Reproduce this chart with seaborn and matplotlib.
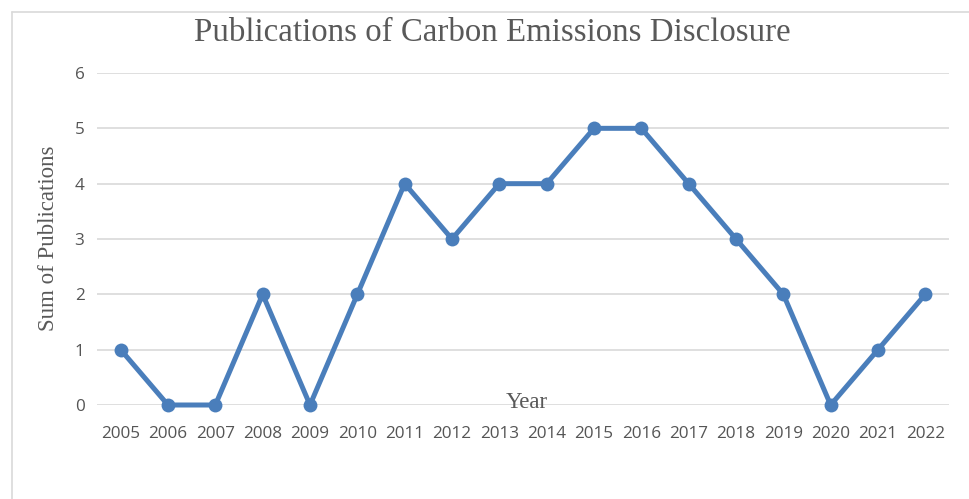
import matplotlib
matplotlib.use("Agg")
import matplotlib.pyplot as plt
import seaborn as sns
import pandas as pd
from matplotlib.lines import Line2D

years = [2005, 2006, 2007, 2008, 2009, 2010, 2011, 2012, 2013, 2014,
         2015, 2016, 2017, 2018, 2019, 2020, 2021, 2022]
publications = [1, 0, 0, 2, 0, 2, 4, 3, 4, 4, 5, 5, 4, 3, 2, 0, 1, 2]
y_ticks = [0, 1, 2, 3, 4, 5, 6]

df = pd.DataFrame({"Year": years, "Publications": publications})

sns.set_style("white")
fig = plt.figure(figsize=(9.70, 4.99), dpi=100)
ax = fig.add_axes([97/970, 1-405/499, (949-97)/970, (405-73)/499])

sns.lineplot(data=df, x="Year", y="Publications", ax=ax, color="#4a7ebb",
             linewidth=3.6, marker="o", markersize=10, markeredgewidth=0,
             clip_on=False, zorder=5)

ax.set_xlim(years[0]-0.5, years[-1]+0.5)
ax.set_ylim(0, 6)
ax.set_yticks(y_ticks)
ax.set_xticks(years)
ax.set_xticklabels([str(y) for y in years])
ax.grid(axis="y", color="#d9d9d9", linewidth=1.2)
ax.grid(axis="x", visible=False)
for s in ax.spines.values():
    s.set_visible(False)
ax.tick_params(axis="both", length=0, labelsize=12.3, labelcolor="#555555")
for lab in ax.get_xticklabels() + ax.get_yticklabels():
    lab.set_family("Open Sans")
ax.tick_params(axis="x", pad=15)
ax.tick_params(axis="y", pad=9)

ax.set_xlabel("")
ax.set_ylabel("")
fig.text(49/970, 1-238/499, "Sum of Publications", family="Liberation Serif",
         fontsize=16.5, color="#595959", rotation=90, ha="center", va="center")
fig.text(527/970, 1-402/499, "Year", family="Liberation Serif", fontsize=16.5,
         color="#595959", ha="center", va="center", zorder=1)
fig.text(492/970, 1-33/499, "Publications of Carbon Emissions Disclosure",
         family="Liberation Serif", fontsize=23.7, color="#595959",
         ha="center", va="center")

fig.add_artist(Line2D([12/970, 12/970], [0, 1-12/499], color="#d9d9d9",
                      linewidth=1.2, transform=fig.transFigure))
fig.add_artist(Line2D([12/970, 1], [1-12/499, 1-12/499], color="#d9d9d9",
                      linewidth=1.2, transform=fig.transFigure))

fig.savefig("out.png", dpi=100)
